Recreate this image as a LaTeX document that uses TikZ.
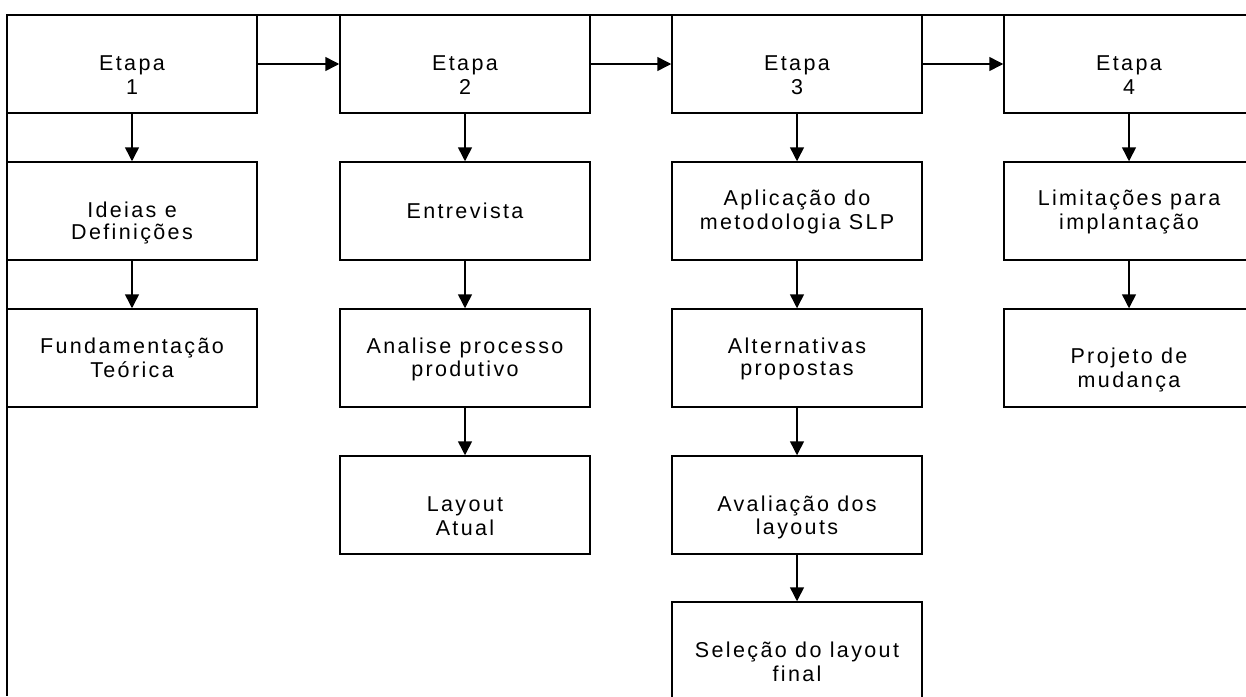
\documentclass[tikz,border=0pt]{standalone}
\usepackage{fontspec}
\usetikzlibrary{arrows.meta}
\newfontfamily\labfont[LetterSpace=11]{Liberation Sans}
% invisible line prop: height 18pt, depth 2.6pt, so each line is centred on its capitals
\newcommand\boxstrut{\rule[-2.6pt]{0pt}{20.6pt}}
\tikzset{
  stepbox/.style={draw, line width=1.5pt, minimum width=250pt, minimum height=98pt,
    inner sep=0pt, align=center, font={\labfont\fontsize{21.5}{22}\selectfont}},
  link/.style={line width=1.5pt, -{Triangle[length=14pt,width=14pt]}},
  frameline/.style={line width=2.6pt}
}
\begin{document}
\begin{tikzpicture}[x=1pt,y=-1pt]
\useasboundingbox (0,0) rectangle (1246,696);
% outer frame (top and left edges)
\coordinate (fTL) at (7,15);
\coordinate (fTR) at (1246,15);
\coordinate (fBL) at (7,696);
\draw[frameline] (fTR) -- (fTL) -- (fBL);

% column 1
\node[stepbox] (e1) at (132,64) {\boxstrut\\\boxstrut Etapa\\\boxstrut 1};
\node[stepbox] (c1a) at (132,211) {\boxstrut\\\boxstrut Ideias e\\\boxstrut Definições};
\node[stepbox] (c1b) at (132,358) {\boxstrut Fundamentação\\\boxstrut Teórica};
% column 2
\node[stepbox] (e2) at (465,64) {\boxstrut\\\boxstrut Etapa\\\boxstrut 2};
\node[stepbox] (c2a) at (465,211) {\boxstrut Entrevista};
\node[stepbox] (c2b) at (465,358) {\boxstrut Analise processo\\\boxstrut produtivo};
\node[stepbox] (c2c) at (465,505) {\boxstrut\\\boxstrut Layout\\\boxstrut Atual};
% column 3
\node[stepbox] (e3) at (797,64) {\boxstrut\\\boxstrut Etapa\\\boxstrut 3};
\node[stepbox] (c3a) at (797,211) {\boxstrut Aplicação do\\\boxstrut metodologia SLP};
\node[stepbox] (c3b) at (797,358) {\boxstrut Alternativas\\\boxstrut propostas};
\node[stepbox] (c3c) at (797,505) {\boxstrut\\\boxstrut Avaliação dos\\\boxstrut layouts};
\node[stepbox] (c3d) at (797,651) {\boxstrut\\\boxstrut Seleção do layout\\\boxstrut final};
% column 4
\node[stepbox] (e4) at (1129,64) {\boxstrut\\\boxstrut Etapa\\\boxstrut 4};
\node[stepbox] (c4a) at (1129,211) {\boxstrut Limitações para\\\boxstrut implantação};
\node[stepbox] (c4b) at (1129,358) {\boxstrut\\\boxstrut Projeto de\\\boxstrut mudança};

% stage sequence
\draw[link] (e1.east) -- (e2.west);
\draw[link] (e2.east) -- (e3.west);
\draw[link] (e3.east) -- (e4.west);
% activities within each stage
\draw[link] (e1) -- (c1a);
\draw[link] (c1a) -- (c1b);
\draw[link] (e2) -- (c2a);
\draw[link] (c2a) -- (c2b);
\draw[link] (c2b) -- (c2c);
\draw[link] (e3) -- (c3a);
\draw[link] (c3a) -- (c3b);
\draw[link] (c3b) -- (c3c);
\draw[link] (c3c) -- (c3d);
\draw[link] (e4) -- (c4a);
\draw[link] (c4a) -- (c4b);
\end{tikzpicture}
\end{document}
